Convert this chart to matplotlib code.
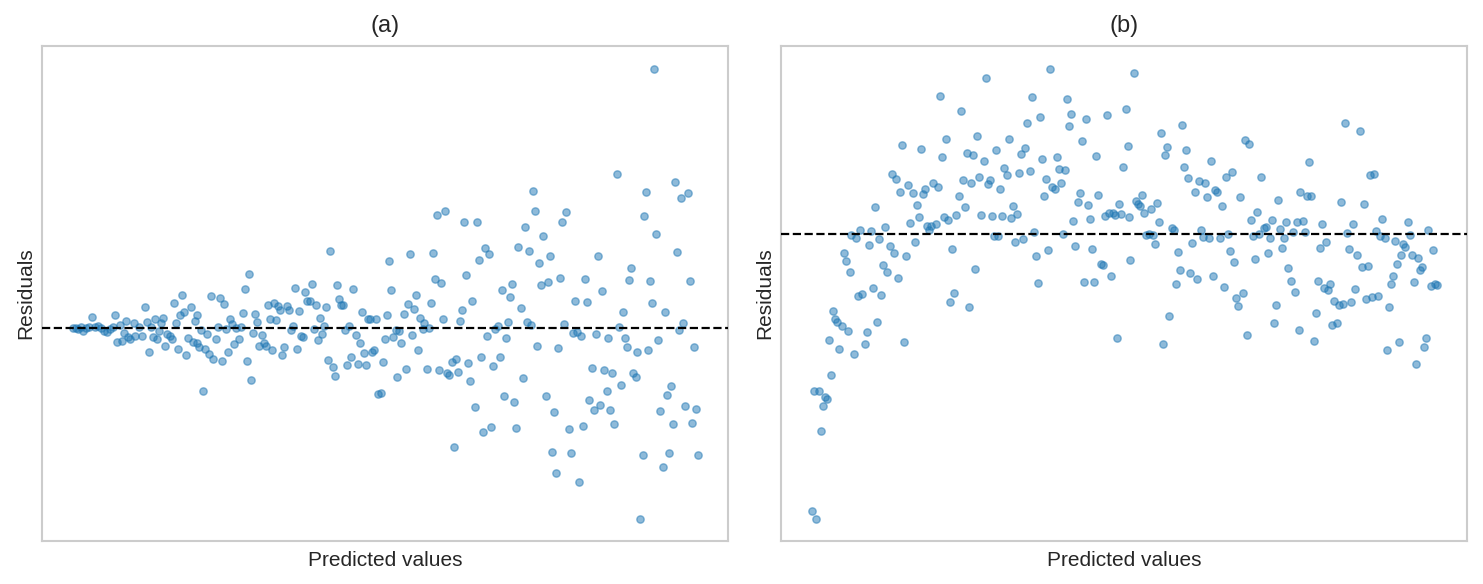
import matplotlib
matplotlib.use("Agg")
import matplotlib.pyplot as plt
import numpy as np

plt.rcParams['font.family'] = ['Liberation Sans', 'DejaVu Sans']

# ---------------- Panel (a): predicted values and residuals ----------------
pred_a = [
    0.31, 0.34, 0.36, 0.39, 0.41, 0.44, 0.47, 0.50, 0.53, 0.56, 0.59, 0.62, 0.65, 0.68, 0.71,
    0.73, 0.75, 0.78, 0.80, 0.82, 0.84, 0.86, 0.88, 0.92, 0.93, 0.97, 1.00, 1.03, 1.05, 1.07,
    1.09, 1.11, 1.13, 1.15, 1.17, 1.19, 1.21, 1.23, 1.25, 1.28, 1.30, 1.32, 1.34, 1.36, 1.38,
    1.40, 1.42, 1.44, 1.46, 1.49, 1.51, 1.53, 1.55, 1.55, 1.57, 1.59, 1.61, 1.63, 1.65, 1.67,
    1.69, 1.71, 1.74, 1.76, 1.78, 1.80,
    1.82, 1.84, 1.86, 1.88, 1.90, 1.92, 1.94, 1.97, 1.99, 2.01, 2.03, 2.05, 2.07, 2.09, 2.11,
    2.13, 2.15, 2.17, 2.20, 2.22, 2.24, 2.26, 2.28, 2.30, 2.32, 2.34, 2.36, 2.38, 2.40, 2.42,
    2.45, 2.47, 2.49, 2.51, 2.53, 2.55, 2.57, 2.59, 2.61, 2.63, 2.65, 2.68, 2.70, 2.72, 2.74,
    2.76, 2.78, 2.80, 2.82, 2.84, 2.86, 2.88, 2.91, 2.93, 2.95, 2.97, 2.99, 3.01, 3.03, 3.05,
    3.07, 3.09, 3.11, 3.14, 3.16, 3.18, 3.20, 3.22, 3.24, 3.26, 3.28, 3.30, 3.32, 3.34, 3.36,
    3.39, 3.41, 3.43, 3.45, 3.47, 3.49, 3.51,
    3.54, 3.55, 3.57, 3.59, 3.62, 3.64, 3.66, 3.68, 3.70, 3.72, 3.74, 3.76, 3.78, 3.81, 3.82,
    3.85, 3.87, 3.89, 3.91, 3.93, 3.95, 3.97, 3.99, 4.01, 4.03, 4.05, 4.07, 4.10, 4.12, 4.14,
    4.16, 4.18, 4.20, 4.22, 4.24, 4.26, 4.28, 4.30, 4.33, 4.35, 4.37, 4.39, 4.41, 4.43, 4.45,
    4.47, 4.49, 4.51, 4.53, 4.56, 4.58, 4.60, 4.62, 4.64, 4.66, 4.68, 4.70, 4.72, 4.74, 4.76,
    4.79, 4.81, 4.83, 4.85, 4.87, 4.89, 4.91, 4.93, 4.95, 4.97, 4.99, 5.01, 5.04, 5.06,
    5.08, 5.10, 5.12, 5.14, 5.16, 5.18, 5.20, 5.22, 5.24, 5.27, 5.29, 5.31, 5.33, 5.35, 5.37,
    5.39, 5.41, 5.43, 5.45, 5.47, 5.50, 5.52, 5.54, 5.56, 5.58, 5.60, 5.62, 5.65, 5.66, 5.68,
    5.70, 5.72, 5.75, 5.77, 5.79, 5.81, 5.83, 5.85, 5.87, 5.89, 5.91, 5.94, 5.95, 5.98, 6.01,
    6.02, 6.04, 6.06, 6.08, 6.10, 6.12, 6.14, 6.16, 6.18, 6.21, 6.23, 6.25, 6.27, 6.29, 6.31,
    6.33, 6.35, 6.37, 6.39, 6.41, 6.43, 6.46, 6.48, 6.50, 6.52, 6.54, 6.56,
]
resid_a = [
    0.00, 0.00, -0.01, 0.01, -0.03, 0.00, 0.01, 0.11, 0.01, 0.02, 0.00, -0.03, -0.04, -0.01, 0.01,
    0.13, -0.14, 0.03, -0.13, -0.05, 0.07, -0.09, -0.11, 0.05, -0.08, 0.01, -0.08, 0.21, 0.06, -0.24,
    0.01, -0.09, 0.09, -0.11, -0.03, 0.05, 0.10, -0.18, -0.06, -0.08, -0.11, 0.25, 0.05, -0.21, 0.13,
    0.33, 0.16, -0.27, -0.10, 0.21, -0.14, 0.07, 0.13, -0.15, -0.19, -0.02, -0.63, -0.21, -0.06, -0.26,
    0.32, -0.31, -0.11, 0.01, 0.30, -0.33,
    0.24, -0.01, -0.24, 0.09, 0.04, -0.16, 0.00, -0.11, 0.01, 0.15, 0.39, -0.33, 0.54, -0.52, -0.05,
    0.14, 0.06, -0.18, -0.07, -0.15, -0.18, 0.23, 0.09, -0.22, 0.25, 0.08, 0.22, 0.18, -0.27, -0.19,
    0.22, 0.18, -0.02, 0.02, 0.40, -0.21, 0.17, -0.08, -0.09, 0.36, 0.27, 0.27, 0.44, -0.01, 0.23,
    -0.12, 0.10, -0.06, 0.02, 0.21, -0.32, 0.77, -0.39, -0.48, 0.43, 0.29, 0.23, 0.23, -0.02, -0.37,
    0.02, -0.29, 0.39, -0.07, -0.36, -0.15, 0.16, -0.25, -0.37, 0.09, 0.09, -0.24, -0.22, 0.09, -0.66,
    -0.65, -0.34, -0.11, 0.13, 0.67, 0.38, -0.09,
    -0.02, -0.49, -0.03, -0.15, 0.14, -0.41, 0.24, 0.74, -0.07, 0.19, 0.33, -0.22, 0.10, -0.01, 0.05,
    -0.41, 0.00, 0.25, 0.75, 0.49, 1.13, -0.42, 0.45, 0.09, 1.17, -0.45, -0.47, -0.34, -1.19, -0.31,
    -0.44, 0.07, 0.18, 1.06, 0.53, -0.35, -0.53, 0.27, -0.79, 1.06, 0.68, -0.29, -1.04, 0.80, -0.08,
    0.74, -0.99, -0.38, -0.01, 0.02, -0.29, 0.38, -0.68, -0.10, 0.06, 0.31, 0.44, -0.74, -1.00, 0.81,
    0.20, -0.50, 1.01, 0.06, 0.77, 0.03, 1.37, 1.17, -0.18, 0.65, 0.43, 0.92, -0.68, 0.46,
    0.72, -1.24, -0.84, -1.45, -0.20, 0.50, 1.06, 0.04, 1.16, -1.01, -1.25, -0.05, 0.27, -0.04, -1.54,
    -0.08, -0.98, 0.49, 0.26, -0.72, -0.40, -0.82, -0.06, 0.72, -0.77, 0.37, -0.42, -0.63, -0.10, -0.82,
    -0.45, -0.96, 1.54, 0.01, -0.57, 0.16, -0.10, -0.19, 0.48, 0.60, -0.45, -0.49, -0.24, -1.91, -1.27,
    1.12, 1.36, -0.22, 0.47, 0.25, 2.59, 0.94, -0.12, -0.83, -1.39, 0.16, -0.67, -1.25, -0.58, -0.96,
    1.46, 0.76, -0.02, 1.30, 0.05, -0.78, 1.35, 0.47, -0.95, -0.19, -0.81, -1.27,
]

# ---------------- Panel (b): predicted values and residuals ----------------
pred_b = [
    0.31, 0.35, 0.33, 0.38, 0.40, 0.42, 0.44, 0.46, 0.48, 0.50, 0.52, 0.54, 0.56, 0.58, 0.61,
    0.63, 0.65, 0.67, 0.69, 0.70, 0.73, 0.75, 0.77, 0.79, 0.81, 0.84, 0.86, 0.88, 0.90, 0.92,
    0.94, 0.96, 0.98, 1.00, 1.02, 1.04, 1.06, 1.09, 1.11, 1.13, 1.15, 1.17, 1.19, 1.21, 1.23,
    1.25, 1.27, 1.29, 1.32, 1.34, 1.36, 1.38, 1.40, 1.42, 1.44, 1.46, 1.48, 1.50, 1.52, 1.55,
    1.57, 1.59, 1.61, 1.63, 1.65, 1.67, 1.69, 1.71, 1.73, 1.75, 1.78,
    1.80, 1.82, 1.84, 1.86, 1.88, 1.90, 1.92, 1.94, 1.96, 1.98, 2.00, 2.03, 2.05, 2.07, 2.09,
    2.11, 2.13, 2.15, 2.17, 2.19, 2.21, 2.23, 2.26, 2.28, 2.30, 2.32, 2.34, 2.36, 2.38, 2.40,
    2.42, 2.44, 2.46, 2.49, 2.51, 2.53, 2.55, 2.57, 2.59, 2.61, 2.63, 2.65, 2.67, 2.69, 2.71,
    2.74, 2.76, 2.78, 2.80, 2.82, 2.84, 2.86, 2.88, 2.90, 2.92, 2.94, 2.97, 2.99, 3.01, 3.03,
    3.05, 3.07, 3.09, 3.11, 3.13, 3.15, 3.17, 3.20, 3.22, 3.24, 3.26, 3.28, 3.30, 3.32, 3.34,
    3.36, 3.38, 3.40, 3.42, 3.45, 3.47, 3.48, 3.49,
    3.53, 3.55, 3.57, 3.59, 3.61, 3.63, 3.65, 3.68, 3.70, 3.72, 3.74, 3.76, 3.78, 3.80, 3.82,
    3.84, 3.86, 3.88, 3.91, 3.93, 3.95, 3.97, 3.99, 4.01, 4.03, 4.05, 4.07, 4.09, 4.11, 4.14,
    4.16, 4.18, 4.20, 4.22, 4.24, 4.26, 4.28, 4.30, 4.32, 4.34, 4.36, 4.39, 4.41, 4.43, 4.45,
    4.47, 4.49, 4.51, 4.53, 4.55, 4.57, 4.59, 4.62, 4.64, 4.66, 4.68, 4.70, 4.72, 4.74, 4.76,
    4.78, 4.80, 4.83, 4.85, 4.87, 4.89, 4.91, 4.93, 4.95, 4.97, 4.99, 5.01, 5.03, 5.05, 5.07,
    5.10, 5.12, 5.14, 5.16, 5.18, 5.19,
    5.22, 5.24, 5.26, 5.28, 5.30, 5.33, 5.35, 5.37, 5.39, 5.41, 5.43, 5.45, 5.47, 5.49, 5.51,
    5.53, 5.56, 5.58, 5.60, 5.62, 5.64, 5.66, 5.68, 5.70, 5.72, 5.74, 5.76, 5.79, 5.81, 5.83,
    5.85, 5.87, 5.89, 5.91, 5.93, 5.95, 5.97, 5.99, 6.01, 6.04, 6.06, 6.08, 6.10, 6.12, 6.14,
    6.16, 6.18, 6.20, 6.22, 6.24, 6.27, 6.29, 6.31, 6.33, 6.35, 6.37, 6.39, 6.41, 6.43, 6.45,
    6.47, 6.50, 6.52, 6.54, 6.56,
]
resid_b = [
    -2.77, -2.85, -1.57, -1.57, -1.97, -1.72, -1.63, -1.65, -1.06, -1.41, -0.77, -0.85, -0.88, -1.15, -0.92,
    -0.19, -0.27, -0.97, -0.38, -0.01, -1.20, -0.04, -0.62, 0.04, -0.60, -1.10, -0.98, -0.11, 0.03, -0.54,
    0.27, -0.88, -0.05, -0.61, -0.31, 0.07, -0.38, -0.12, 0.60, -0.19, 0.55, -0.44, 0.42, 0.89, -1.08,
    -0.22, 0.49, 0.11, 0.41, -0.08, 0.29, 0.17, 0.85, 0.40, 0.45, 0.08, 0.04, 0.08, 0.51, 0.10,
    0.47, 1.38, 0.77, 0.17, 0.95, 0.14, -0.68, -0.15, -0.59, 0.19, 0.38,
    1.23, 0.54, 0.27, 0.81, -0.73, 0.51, 0.79, -0.35, 0.98, 0.57, 0.19, 0.73, 1.56, 0.50, 0.54,
    0.18, -0.02, 0.84, -0.02, 0.45, 0.18, 0.66, 0.59, 0.95, 0.16, 0.28, -0.08, 0.20, 0.61, 0.80,
    -0.05, 0.86, 1.11, 0.63, 1.37, 0.02, -0.22, -0.49, 1.17, 0.75, 0.38, 0.55, -0.16, 1.65, 0.47,
    0.45, 0.77, 0.65, 0.51, 0.00, 0.64, 1.35, 1.08, 1.20, 0.13, -0.12, 0.32, 0.41, 0.93, -0.48,
    1.15, 0.29, 0.15, -0.15, -0.48, 0.78, 0.39, -0.30, -0.31, 0.18, 1.19, 0.21, -0.42, 0.21, 0.19,
    -1.04, 0.30, 0.20, 0.67, 1.25, 0.88, 0.17, -0.26,
    1.61, 0.33, 0.30, 0.28, 0.39, 0.21, -0.01, 0.00, 0.25, -0.01, -0.10, 0.31, 0.12, 1.01, -1.10,
    0.79, 0.87, -0.82, 0.06, 0.04, -0.50, -0.18, -0.36, 1.09, 0.67, 0.84, 0.56, -0.39, -0.09, 0.42,
    -0.45, 0.53, 0.04, -0.03, 0.51, 0.37, -0.04, 0.73, -0.42, 0.44, 0.42, -0.04, 0.28, -0.53, 0.57,
    0.00, -0.17, 0.62, -0.28, -0.64, -0.72, 0.37, -0.59, 0.94, -1.01, 0.90, 0.14, -0.02, -0.25, 0.22,
    0.00, 0.57, 0.06, 0.07, -0.19, -0.04, 0.14, -0.89, -0.71, 0.34, 0.05, -0.14, -0.04, 0.12, -0.34,
    -0.47, 0.02, -0.58, 0.12, -0.96, 0.42,
    0.13, 0.02, 0.38, 0.72, 0.38, -1.07, -0.79, -0.47, -0.14, 0.10, -0.54, -0.08, -0.56, -0.50, -0.91,
    -0.67, -0.89, -0.71, 0.32, -0.70, 1.11, 0.01, -0.15, -0.68, 0.10, -0.55, -0.21, 1.03, -0.33, 0.30,
    -0.65, -0.32, 0.59, -0.63, 0.60, 0.03, -0.62, -0.02, 0.15, -0.04, -1.16, -0.73, -0.50, -0.42, -0.07,
    -0.30, -1.08, -0.21, -0.10, -0.13, 0.12, -0.01, -0.21, -0.48, -1.30, -0.24, -0.36, -0.33, -1.13, -1.04,
    0.04, -0.52, -0.16, -0.50, -0.51,
]

titles = ["(a)", "(b)"]
x_label = "Predicted values"
y_label = "Residuals"

W, H = 1483, 584
fig = plt.figure(figsize=(W / 100, H / 100), dpi=100)

panels = [
    (pred_a, resid_a, (0.0, 6.86), (-2.13, 2.82), [42, 728]),
    (pred_b, resid_b, (0.0, 6.86), (-3.07, 1.88), [781, 1467]),
]
top_px, bot_px = 46, 541
for (px, ry, xl, yl, (l, r)), title in zip(panels, titles):
    ax = fig.add_axes([l / W, 1 - bot_px / H, (r - l) / W, (bot_px - top_px) / H])
    ax.scatter(px, ry, s=28, color="#1f77b4", alpha=0.5, linewidths=1.0, zorder=2)
    ax.axhline(0, color="black", linestyle="--", linewidth=1.6, zorder=3)
    ax.set_xlim(*xl)
    ax.set_ylim(*yl)
    ax.set_xticks([])
    ax.set_yticks([])
    for sp in ax.spines.values():
        sp.set_color("#cccccc")
        sp.set_linewidth(1.5)
    ax.set_title(title, fontsize=17, color="#262626", pad=10)
    ax.set_xlabel(x_label, fontsize=15, color="#262626", labelpad=7)
    ax.set_ylabel(y_label, fontsize=15, color="#262626", labelpad=5)

fig.savefig("out.png", dpi=100)
